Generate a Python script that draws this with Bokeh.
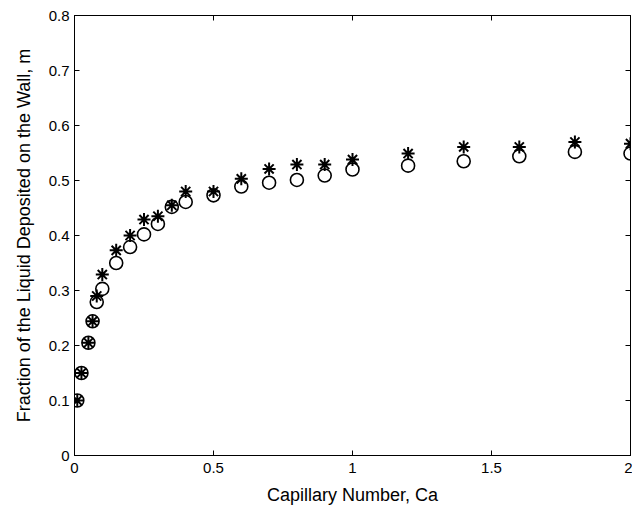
from bokeh.plotting import figure
from bokeh.models import LinearAxis, FixedTicker, Range1d, CustomLabelingPolicy
from bokeh.embed import file_html
from bokeh.resources import INLINE

# Data
ca = [0.01, 0.025, 0.05, 0.065, 0.08, 0.1, 0.15, 0.2, 0.25, 0.3, 0.35, 0.4,
      0.5, 0.6, 0.7, 0.8, 0.9, 1.0, 1.2, 1.4, 1.6, 1.8, 2.0]
m_circle = [0.100, 0.150, 0.205, 0.244, 0.279, 0.303, 0.350, 0.379, 0.402, 0.421,
            0.452, 0.461, 0.473, 0.489, 0.496, 0.501, 0.509, 0.520, 0.527, 0.535,
            0.544, 0.552, 0.549]
m_star = [0.100, 0.150, 0.205, 0.244, 0.290, 0.329, 0.373, 0.400, 0.429, 0.435,
          0.455, 0.480, 0.480, 0.503, 0.521, 0.529, 0.529, 0.538, 0.549, 0.561,
          0.561, 0.570, 0.567]

x_ticks = [0, 0.5, 1, 1.5, 2]
x_tick_labels = ["0", "0.5", "1", "1.5", "2"]
y_ticks = [0, 0.1, 0.2, 0.3, 0.4, 0.5, 0.6, 0.7, 0.8]
y_tick_labels = ["0", "0.1", "0.2", "0.3", "0.4", "0.5", "0.6", "0.7", "0.8"]

FONT = "Liberation Sans"

p = figure(width=632, height=510, output_backend="svg", toolbar_location=None,
           x_range=Range1d(0, 2), y_range=Range1d(0, 0.8),
           min_border_left=74, min_border_right=2, min_border_top=15, min_border_bottom=55)
p.grid.visible = False
p.outline_line_color = "black"
p.outline_line_width = 1
p.background_fill_color = "white"
p.border_fill_color = "white"

hide_all = CustomLabelingPolicy(code="""
    const n = indices.size
    for (let i = 0; i < n; i++) { indices.unset(i) }
    return indices
""")

def style_axis(ax, ticks, labels, show_labels=True):
    ax.ticker = FixedTicker(ticks=ticks, minor_ticks=[])
    ax.major_tick_in = 5
    ax.major_tick_out = 0
    ax.minor_tick_in = 0
    ax.minor_tick_out = 0
    ax.axis_line_color = "black"
    ax.major_tick_line_color = "black"
    if show_labels:
        ax.major_label_overrides = dict(zip(ticks, labels))
        ax.major_label_text_font = FONT
        ax.major_label_text_font_size = "15px"
        ax.major_label_text_color = "black"
        ax.axis_label_text_font = FONT
        ax.axis_label_text_font_size = "18px"
        ax.axis_label_text_font_style = "normal"
        ax.axis_label_text_color = "black"
    else:
        ax.major_label_policy = hide_all
        ax.major_label_text_font_size = "0px"
        ax.major_label_standoff = 0
        ax.axis_label = None

xa = p.xaxis[0]
ya = p.yaxis[0]
style_axis(xa, x_ticks, x_tick_labels)
style_axis(ya, y_ticks, y_tick_labels)
xa.axis_label = "Capillary Number, Ca"
ya.axis_label = "Fraction of the Liquid Deposited on the Wall, m"
xa.major_label_standoff = 7
xa.axis_label_standoff = 9
ya.major_label_standoff = 5
ya.axis_label_standoff = 12

top = LinearAxis()
style_axis(top, x_ticks, x_tick_labels, show_labels=False)
p.add_layout(top, "above")
right = LinearAxis()
style_axis(right, y_ticks, y_tick_labels, show_labels=False)
p.add_layout(right, "right")

p.scatter(ca, m_circle, marker="circle", size=13, fill_color=None,
          line_color="black", line_width=1.6)
p.scatter(ca, m_star, marker="asterisk", size=13,
          line_color="black", line_width=2)

open("out.html", "w").write(file_html(p, INLINE))
